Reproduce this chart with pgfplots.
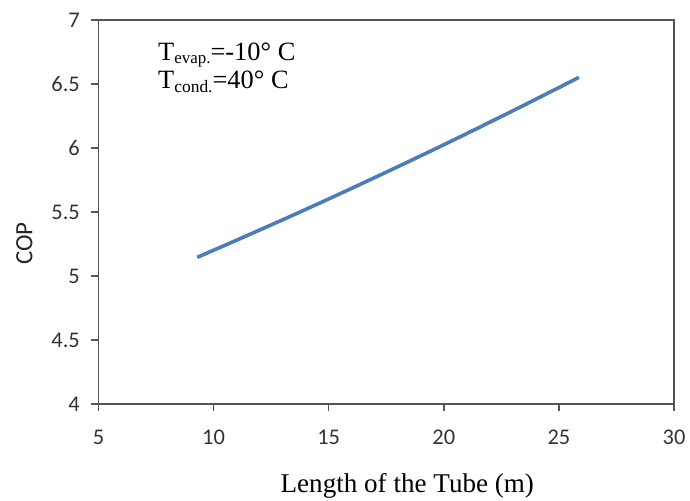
\documentclass[border=0pt]{standalone}
\usepackage{fontspec}
\setmainfont{Liberation Serif}
\newfontfamily\calibri{Carlito}
\usepackage{pgfplots}
\pgfplotsset{compat=1.18}
\definecolor{linblue}{RGB}{74,126,187}
\definecolor{axgray}{RGB}{85,85,85}

\begin{document}
\begin{tikzpicture}
\path[use as bounding box] (-98.5bp,-97bp) rectangle (591.5bp,404bp);
\begin{axis}[
  name=ax, at={(0,0)}, anchor=south west,
  scale only axis, width=575.5bp, height=384bp,
  xmin=5, xmax=30, ymin=4, ymax=7,
  xtick={5,10,...,30}, ytick={4,4.5,...,7},
  axis line style={draw=axgray, line width=1.6bp},
  tick style={axgray, line width=1.4bp},
  major tick length=7bp, tick align=outside,
  xtick pos=left, ytick pos=left,
  /pgf/number format/assume math mode=true,
  ticklabel style={font=\calibri\fontsize{22.5}{22.5}\selectfont, text=black!80, inner sep=0pt},
  xticklabel style={anchor=base, yshift=-33bp},
  yticklabel style={anchor=east, xshift=-11.5bp},
  xlabel={Length of the Tube (m)},
  xlabel style={at={(axis description cs:0.5366,0)}, anchor=base, yshift=-88.3bp,
    inner sep=0pt, font=\fontsize{27.2}{27.2}\selectfont},
  ylabel={COP},
  ylabel style={at={(axis description cs:-0.1286,0.418)}, anchor=center,
    inner sep=0pt, font=\calibri\fontsize{25}{25}\selectfont, text=black!85},
]
\addplot[linblue, line width=3.6bp, smooth] coordinates {
  (9.29,5.146) (11,5.280) (13,5.439) (15,5.602) (17,5.769)
  (19,5.939) (21,6.113) (23,6.291) (25,6.472) (25.87,6.552)
};
\node[anchor=base west, inner sep=0pt, font=\fontsize{26.5}{26.5}\selectfont]
  at (axis cs:7.585,6.6875) {T\raisebox{-3.5bp}{\fontsize{17}{17}\selectfont evap.}=-10° C};
\node[anchor=base west, inner sep=0pt, font=\fontsize{26.5}{26.5}\selectfont]
  at (axis cs:7.585,6.461) {T\raisebox{-3.5bp}{\fontsize{17.5}{17.5}\selectfont cond.}=40° C};
\end{axis}
% top and right border of the frame
\draw[axgray, line width=1.8bp] (ax.north west) -- (ax.north east) -- (ax.south east);
\end{tikzpicture}
\end{document}
